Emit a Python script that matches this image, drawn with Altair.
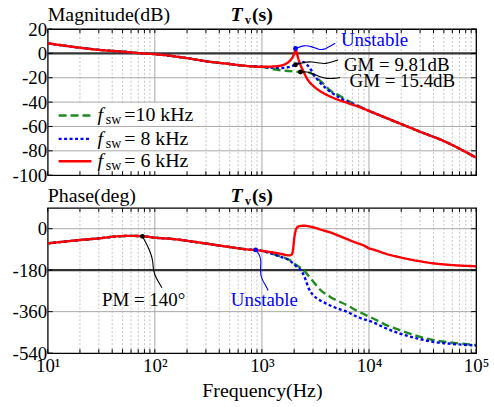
import altair as alt
import pandas as pd

FONT = "Liberation Serif"

# ---------------- Magnitude data (dB) ----------------
f_mag_low = [10, 20, 30, 50, 77, 100, 200, 300, 500, 700, 1000]
mag_low = [8.3, 4.7, 2.9, 1.4, 0.0, -0.6, -3.9, -6.4, -8.7, -10.2, -11.0]

f_mag_6 = [1300, 1500, 1700, 1850, 1950, 2030, 2060, 2120, 2200, 2290, 2450, 2630, 3000, 3500, 4500, 6200, 8000]
mag_6 = [-10.7, -10.0, -8.2, -5.5, -2.5, 1.5, 3.7, 0.0, -5.0, -9.4, -15.0, -20.5, -26.5, -31.0, -36.0, -40.5, -43.8]

f_mag_8 = [1300, 1500, 1700, 1900, 2060, 2250, 2460, 2650, 2850, 3050, 3500, 4000, 4350, 5500, 7700]
mag_8 = [-11.8, -12.0, -11.6, -10.6, -9.3, -7.8, -7.2, -9.5, -13.0, -17.5, -24.0, -29.0, -31.5, -37.0, -42.8]

f_mag_10 = [1300, 1500, 1800, 2100, 2290, 2600, 2900, 3160, 3500, 3760, 4350, 5360, 6225, 7700]
mag_10 = [-13.0, -13.8, -14.5, -15.0, -15.3, -15.4, -16.5, -19.0, -22.5, -25.0, -30.5, -35.0, -38.5, -42.5]

f_mag_tail = [10000, 20000, 30000, 50000, 100000]
mag_tail = [-47.2, -58.0, -64.3, -72.0, -85.6]

# ---------------- Phase data (deg) ----------------
f_ph_low = [10, 15, 20, 30, 45, 60, 80, 100, 150, 250, 400, 730, 1000]
ph_low = [-63.5, -55, -49, -42, -33, -31, -33.5, -39, -45, -59, -73, -90, -96]

f_ph_6 = [1300, 1500, 1790, 1900, 1960, 2000, 2060, 2130, 2250, 2460, 2700, 3050, 3600, 4350, 5200,
          6225, 7500, 8870, 10000, 11400, 14000, 19400, 28000, 39600, 60000, 100000]
ph_6 = [-104, -109, -116, -112, -85, -45, -10, 5, 11, 13, 11, 5.6, -5, -16, -30,
        -45, -60, -72, -85, -93, -107, -124, -139, -150, -158, -163]

f_ph_8 = [1300, 1500, 1800, 2130, 2378, 2550, 2740, 3000, 3275, 4000, 4680, 6225, 8000, 10960,
          14000, 19400, 28000, 39600, 60000, 100000]
ph_8 = [-112, -122, -137, -167, -188, -220, -260, -288, -303, -325, -340, -361, -385, -407,
        -430, -455, -476, -491, -500, -507]

f_ph_10 = [1300, 1500, 1800, 2130, 2460, 2750, 3050, 3500, 4350, 6225, 8000, 10960, 14000,
           19400, 28000, 39600, 60000, 100000]
ph_10 = [-111, -121, -135, -160, -180, -207, -232, -265, -296, -332, -360, -390, -415,
         -440, -465, -483, -495, -505]

# ---------------- Annotations ----------------
unst_mag_f = [2060, 2466, 2944, 3397, 3910, 4510, 4840]
unst_mag_v = [4.0, 6.9, 5.6, 2.9, 3.4, 6.9, 8.3]
gm1_f = [2060, 2466, 2944, 3440, 3970, 4590, 5130]
gm1_v = [-9.3, -7.2, -6.7, -8.0, -8.6, -6.7, -5.3]
gm2_f = [2290, 2620, 3050, 3500, 4030, 4640, 5360]
gm2_v = [-15.3, -14.9, -16.7, -19.4, -20.8, -20.6, -19.8]
pm_f = [76.6, 80.7, 89.8, 96.3, 96.3, 103.3, 116.7]
pm_v = [-33.2, -51.8, -95, -138, -181, -217, -256]
unst_ph_f = [875, 942, 989, 961, 989, 1084, 1142]
unst_ph_v = [-92, -109, -138, -181, -217, -246, -268]

mag_labels = [("Unstable", 5470, 11.0, "#0000ff"), ("GM = 9.81dB", 5830, -9.4, "black"),
              ("GM = 15.4dB", 6580, -23.0, "black")]
ph_labels = [("PM = 140°", 78.6, -308, "black", "center"), ("Unstable", 1054, -308, "#0000ff", "center")]

legend_labels = ["=10 kHz", "=  8 kHz", "=  6 kHz"]
legend_colors = ["#1f8a1f", "#0000ff", "#ff0000"]
legend_dash = [[8, 4], [3, 2.5], [1, 0]]

mag_ticks = [-100, -80, -60, -40, -20, 0, 20]
ph_ticks = [-540, -360, -180, 0]
decades = [10, 100, 1000, 10000, 100000]
all_x_ticks = [k * 10 ** d for d in range(1, 5) for k in range(1, 10)] + [100000]
minor_x = [k * 10 ** d for d in range(1, 5) for k in range(2, 10)]

W = 431
H_TOP = 147
H_BOT = 146

GREEN, BLUE, RED = legend_colors
GRID = "#a8a8a8"

xscale = alt.Scale(type="log", domain=[10, 100000], nice=False)
ytop = alt.Scale(domain=[-100, 20], nice=False, zero=False)
ybot = alt.Scale(domain=[-540, 90], nice=False, zero=False)

one = pd.DataFrame({"a": [0]})


def df(fs, vs):
    return pd.DataFrame({"f": fs, "v": vs, "i": list(range(len(fs)))})


def series(low_f, low_v, mid_f, mid_v, tail_f=None, tail_v=None):
    fs = list(low_f) + list(mid_f) + (list(tail_f) if tail_f else [])
    vs = list(low_v) + list(mid_v) + (list(tail_v) if tail_v else [])
    return df(fs, vs)


x_bottom_axis = alt.Axis(
    values=decades,
    labelExpr="datum.value == 10 ? '10¹' : datum.value == 100 ? '10²' : datum.value == 1000 ? '10³' : datum.value == 10000 ? '10⁴' : '10⁵'",
    title="Frequency(Hz)", grid=False, ticks=False, domain=False,
    labelFont=FONT, labelFontSize=19, labelPadding=4, labelColor="black",
    labelFlush=False, labelOverlap=False,
    titleFont=FONT, titleFontSize=20, titleFontWeight="normal", titleColor="black",
    titlePadding=5,
)


def y_axis(vals):
    return alt.Axis(values=vals, title=None, grid=False, ticks=False, domain=False,
                    labelFont=FONT, labelFontSize=19, labelPadding=1, labelColor="black",
                    labelExpr="'' + datum.value")


def build_panel(yscale, ticks, xaxis, H, curves, hlines_gray, hline_black, conns, dots, labels, title_text, title_y, legend):
    X = lambda: alt.X("f:Q", scale=xscale, axis=xaxis)
    Y = lambda: alt.Y("v:Q", scale=yscale, axis=y_axis(ticks))
    layers = []
    # minor vertical grid
    layers.append(alt.Chart(pd.DataFrame({"f": minor_x})).mark_rule(
        color="#c4c4c4", strokeWidth=1, strokeDash=[2, 2]).encode(x=X()))
    # major vertical grid
    layers.append(alt.Chart(pd.DataFrame({"f": decades[1:-1]})).mark_rule(
        color=GRID, strokeWidth=1).encode(x=X()))
    if legend:
        layers.append(alt.Chart(one).mark_rect(color="white").encode(
            x=alt.value(2), x2=alt.value(153), y=alt.value(74), y2=alt.value(H - 1)))
    # horizontal grid
    layers.append(alt.Chart(pd.DataFrame({"v": hlines_gray})).mark_rule(
        color=GRID, strokeWidth=1).encode(y=Y()))
    layers.append(alt.Chart(pd.DataFrame({"v": [hline_black]})).mark_rule(
        color="#333333", strokeWidth=2.2).encode(y=Y()))
    # inside ticks
    tdf = pd.DataFrame({"f": all_x_ticks})
    layers.append(alt.Chart(tdf).mark_rule(color="black", strokeWidth=1).encode(
        x=X(), y=alt.value(H), y2=alt.value(H - 4)))
    layers.append(alt.Chart(tdf).mark_rule(color="black", strokeWidth=1).encode(
        x=X(), y=alt.value(0), y2=alt.value(4)))
    ydf = pd.DataFrame({"v": ticks})
    layers.append(alt.Chart(ydf).mark_rule(color="black", strokeWidth=1).encode(
        y=Y(), x=alt.value(0), x2=alt.value(5)))
    layers.append(alt.Chart(ydf).mark_rule(color="black", strokeWidth=1).encode(
        y=Y(), x=alt.value(W), x2=alt.value(W - 5)))
    # curves
    for d, color, dash in curves:
        layers.append(alt.Chart(d).mark_line(color=color, strokeWidth=2.4, strokeDash=dash,
                                             interpolate="monotone", clip=True).encode(
            x=X(), y=Y(), order="i:Q"))
    # connectors
    for d, color in conns:
        layers.append(alt.Chart(d).mark_line(color=color, strokeWidth=1.1, interpolate="basis").encode(
            x=X(), y=Y(), order="i:Q"))
    # dots
    for d, color in dots:
        layers.append(alt.Chart(d).mark_circle(color=color, size=24, opacity=1).encode(x=X(), y=Y()))
    # labels
    for lab in labels:
        text, fx, vy, color = lab[:4]
        align = lab[4] if len(lab) > 4 else "left"
        layers.append(alt.Chart(df([fx], [vy])).mark_text(
            text=text, font=FONT, fontSize=19, color=color, align=align, baseline="middle").encode(
            x=X(), y=Y()))
    # titles
    layers.append(alt.Chart(one).mark_text(text=title_text, font=FONT, fontSize=20, color="black",
                                           align="left", baseline="alphabetic").encode(
        x=alt.value(0), y=alt.value(title_y)))
    layers.append(alt.Chart(one).mark_text(text="T", font=FONT, fontSize=20, fontWeight="bold",
                                           fontStyle="italic", color="black", align="left",
                                           baseline="alphabetic").encode(x=alt.value(184), y=alt.value(title_y)))
    layers.append(alt.Chart(one).mark_text(text="v", font=FONT, fontSize=12, fontWeight="bold",
                                           color="black", align="left", baseline="alphabetic").encode(
        x=alt.value(198.5), y=alt.value(title_y + 3)))
    layers.append(alt.Chart(one).mark_text(text="(s)", font=FONT, fontSize=20, fontWeight="bold",
                                           color="black", align="left", baseline="alphabetic").encode(
        x=alt.value(205.5), y=alt.value(title_y)))
    # legend
    if legend:
        rows = [87, 110.5, 133]
        for ry, lab, col, dash in zip(rows, legend_labels, legend_colors, legend_dash):
            layers.append(alt.Chart(one).mark_rule(color=col, strokeWidth=2.4, strokeDash=dash).encode(
                x=alt.value(11), x2=alt.value(44), y=alt.value(ry)))
            layers.append(alt.Chart(one).mark_text(text="f", font=FONT, fontSize=20, fontStyle="italic",
                                                   color="black", align="left", baseline="middle").encode(
                x=alt.value(50), y=alt.value(ry)))
            layers.append(alt.Chart(one).mark_text(text="sw", font=FONT, fontSize=14,
                                                   color="black", align="left", baseline="middle").encode(
                x=alt.value(58.5), y=alt.value(ry + 5)))
            layers.append(alt.Chart(one).mark_text(text=lab, font=FONT, fontSize=20,
                                                   color="black", align="left", baseline="middle").encode(
                x=alt.value(77), y=alt.value(ry)))
    return alt.layer(*layers).properties(width=W, height=H)


top_curves = [
    (series(f_mag_low, mag_low, f_mag_10, mag_10, f_mag_tail, mag_tail), GREEN, [8, 4]),
    (series(f_mag_low, mag_low, f_mag_8, mag_8, f_mag_tail, mag_tail), BLUE, [3, 2.5]),
    (series(f_mag_low, mag_low, f_mag_6, mag_6, f_mag_tail, mag_tail), RED, [1, 0]),
]
bot_curves = [
    (series(f_ph_low, ph_low, f_ph_10, ph_10), GREEN, [8, 4]),
    (series(f_ph_low, ph_low, f_ph_8, ph_8), BLUE, [3, 2.5]),
    (series(f_ph_low, ph_low, f_ph_6, ph_6), RED, [1, 0]),
]

top = build_panel(
    ytop, mag_ticks, None, H_TOP, top_curves, [-80, -60, -40, -20], 0,
    [(df(unst_mag_f, unst_mag_v), BLUE), (df(gm1_f, gm1_v), "black"), (df(gm2_f, gm2_v), "black")],
    [(df([unst_mag_f[0]], [unst_mag_v[0]]), BLUE), (df([gm1_f[0]], [gm1_v[0]]), "black"),
     (df([gm2_f[0]], [gm2_v[0]]), "black")],
    mag_labels, "Magnitude(dB)", -7.8, True)

bottom = build_panel(
    ybot, ph_ticks, x_bottom_axis, H_BOT, bot_curves, [0, -360], -180,
    [(df(pm_f, pm_v), "black"), (df(unst_ph_f, unst_ph_v), BLUE)],
    [(df([pm_f[0]], [pm_v[0]]), "black"), (df([unst_ph_f[0]], [unst_ph_v[0]]), BLUE)],
    ph_labels, "Phase(deg)", -6.3, False)

chart = alt.vconcat(top, bottom, spacing=33, bounds="flush").properties(
    padding={"left": 11, "top": 3, "right": 4, "bottom": 4},
    background="white",
).configure_view(stroke="black", strokeWidth=1.3)

chart.save("out.html", embed_options={"renderer": "svg", "actions": False})
